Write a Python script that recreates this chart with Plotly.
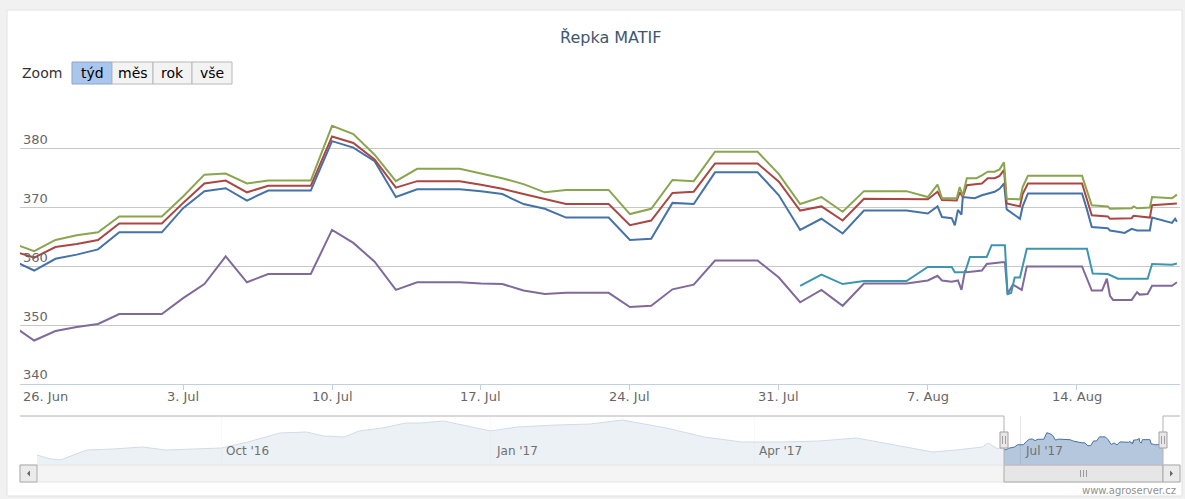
import plotly.graph_objects as go

# ---------------- data ----------------
daily_dates = ["2017-06-25", "2017-06-26", "2017-06-27", "2017-06-28", "2017-06-29", "2017-06-30",
               "2017-07-01", "2017-07-02", "2017-07-03", "2017-07-04", "2017-07-05", "2017-07-06",
               "2017-07-07", "2017-07-08", "2017-07-09", "2017-07-10", "2017-07-11", "2017-07-12",
               "2017-07-13", "2017-07-14", "2017-07-15", "2017-07-16", "2017-07-17", "2017-07-18",
               "2017-07-19", "2017-07-20", "2017-07-21", "2017-07-22", "2017-07-23", "2017-07-24",
               "2017-07-25", "2017-07-26", "2017-07-27", "2017-07-28", "2017-07-29", "2017-07-30",
               "2017-07-31", "2017-08-01", "2017-08-02", "2017-08-03", "2017-08-04", "2017-08-05",
               "2017-08-06"]

green_daily = [363.9, 362.6, 364.5, 365.3, 365.8, 368.5, 368.5, 368.5, 371.9, 375.6, 375.8, 374.1,
               374.6, 374.6, 374.6, 383.9, 382.5, 379.0, 374.5, 376.6, 376.6, 376.6, 375.8, 375.0,
               374.0, 372.6, 373.0, 373.0, 373.0, 368.9, 369.8, 374.7, 374.5, 379.5, 379.5, 379.5,
               375.7, 370.6, 371.8, 369.3, 372.8, 372.8, 372.8]
red_daily = [362.6, 361.5, 363.3, 363.8, 364.5, 367.3, 367.3, 367.3, 370.8, 374.1, 374.6, 372.6,
             373.7, 373.7, 373.7, 382.1, 381.0, 378.2, 373.4, 374.5, 374.5, 374.5, 373.9, 373.2,
             372.3, 371.4, 370.6, 370.6, 370.6, 367.0, 367.8, 372.5, 372.7, 377.5, 377.5, 377.5,
             374.4, 369.5, 370.2, 367.8, 371.5, 371.5, 371.5]
blue_daily = [361.0, 359.3, 361.3, 362.0, 362.9, 365.8, 365.8, 365.8, 369.9, 372.8, 373.3, 371.2,
              372.9, 372.9, 372.9, 381.3, 380.2, 377.9, 371.8, 373.1, 373.1, 373.1, 372.8, 372.3,
              370.6, 369.8, 368.3, 368.3, 368.3, 364.5, 364.7, 370.8, 370.6, 376.0, 376.0, 376.0,
              372.1, 366.2, 368.1, 365.6, 369.5, 369.5, 369.5]
purple_daily = [349.9, 347.4, 349.0, 349.7, 350.2, 351.9, 351.9, 351.9, 354.6, 357.0, 361.7, 357.3,
                358.7, 358.7, 358.7, 366.2, 364.0, 360.8, 356.0, 357.3, 357.3, 357.3, 357.1, 357.0,
                355.9, 355.3, 355.5, 355.5, 355.5, 353.1, 353.3, 356.1, 356.9, 361.0, 361.0, 361.0,
                358.1, 353.9, 356.0, 353.3, 357.1, 357.1, 357.1]

green_aug_x = ["2017-08-07 00:00", "2017-08-07 11:00", "2017-08-07 16:00", "2017-08-08 08:40",
               "2017-08-08 12:00", "2017-08-08 15:30", "2017-08-08 20:00", "2017-08-09 07:00",
               "2017-08-09 13:00", "2017-08-09 19:40", "2017-08-10 03:30", "2017-08-10 09:00",
               "2017-08-10 14:00", "2017-08-10 17:00", "2017-08-11 08:00", "2017-08-11 11:00",
               "2017-08-11 17:00", "2017-08-14 06:00", "2017-08-14 17:00", "2017-08-15 11:00",
               "2017-08-15 13:30", "2017-08-16 14:00", "2017-08-16 16:00", "2017-08-16 20:00",
               "2017-08-17 10:30", "2017-08-17 13:00", "2017-08-18 11:30", "2017-08-18 17:00"]
green_aug_y = [371.8, 373.9, 371.6, 371.6, 373.5, 372.0, 375.0, 375.0, 375.5, 376.1, 376.1, 376.5,
               377.7, 371.5, 371.4, 373.5, 375.4, 375.4, 370.4, 370.2, 369.8, 369.9, 370.2, 369.9,
               370.0, 371.8, 371.6, 372.2]

red_aug_x = ["2017-08-07 00:00", "2017-08-07 11:00", "2017-08-07 16:00", "2017-08-08 08:40",
             "2017-08-08 12:00", "2017-08-08 15:30", "2017-08-08 20:00", "2017-08-09 13:00",
             "2017-08-09 19:40", "2017-08-10 03:30", "2017-08-10 09:00", "2017-08-10 14:00",
             "2017-08-10 17:00", "2017-08-11 08:00", "2017-08-11 11:00", "2017-08-11 17:00",
             "2017-08-14 06:00", "2017-08-14 17:00", "2017-08-15 11:00", "2017-08-15 13:30",
             "2017-08-16 14:00", "2017-08-16 16:00", "2017-08-17 10:30", "2017-08-17 13:00",
             "2017-08-18 17:00"]
red_aug_y = [371.4, 372.7, 371.3, 371.2, 372.6, 371.8, 373.8, 374.1, 375.0, 375.0, 375.4, 376.4,
             370.7, 370.2, 372.3, 374.1, 374.1, 368.7, 368.5, 368.1, 368.2, 368.6, 368.3, 370.4,
             370.7]

blue_aug_x = ["2017-08-07 00:00", "2017-08-07 11:00", "2017-08-07 16:00", "2017-08-08 03:00",
              "2017-08-08 06:30", "2017-08-08 10:00", "2017-08-08 14:00", "2017-08-08 15:30",
              "2017-08-09 05:00", "2017-08-09 13:00", "2017-08-10 03:30", "2017-08-10 09:00",
              "2017-08-10 14:00", "2017-08-10 17:00", "2017-08-11 08:00", "2017-08-11 11:00",
              "2017-08-11 17:00", "2017-08-14 06:00", "2017-08-14 11:30", "2017-08-14 17:00",
              "2017-08-15 11:00", "2017-08-15 13:30", "2017-08-15 22:30", "2017-08-16 06:00",
              "2017-08-16 14:00", "2017-08-16 20:00", "2017-08-17 10:30", "2017-08-17 13:00",
              "2017-08-18 11:30", "2017-08-18 15:00", "2017-08-18 17:00"]
blue_aug_y = [369.0, 370.2, 368.4, 368.2, 367.0, 369.6, 368.8, 371.8, 371.6, 372.1, 372.7, 373.2,
              374.1, 369.7, 368.1, 370.2, 372.4, 372.4, 369.7, 366.7, 366.5, 366.1, 365.9, 365.7,
              366.4, 366.1, 366.1, 368.3, 367.4, 368.1, 367.6]

purple_aug_x = ["2017-08-07 00:00", "2017-08-07 11:00", "2017-08-07 16:00", "2017-08-08 03:00",
                "2017-08-08 10:00", "2017-08-08 14:00", "2017-08-08 18:00", "2017-08-08 20:00",
                "2017-08-09 13:00", "2017-08-09 18:30", "2017-08-10 11:30", "2017-08-10 15:00",
                "2017-08-10 18:00", "2017-08-11 00:00", "2017-08-11 10:00", "2017-08-11 15:40",
                "2017-08-14 06:00", "2017-08-14 17:00", "2017-08-15 04:30", "2017-08-15 10:00",
                "2017-08-15 13:30", "2017-08-15 17:00", "2017-08-16 14:00", "2017-08-16 20:00",
                "2017-08-16 23:00", "2017-08-17 08:00", "2017-08-17 13:00", "2017-08-18 11:30",
                "2017-08-18 17:00"]
purple_aug_y = [357.6, 358.4, 357.6, 357.4, 357.6, 356.0, 359.3, 359.0, 359.3, 360.4, 360.7, 360.7,
                355.3, 356.9, 356.0, 360.0, 360.0, 355.9, 355.9, 357.9, 355.0, 354.3, 354.3, 355.6,
                355.2, 355.3, 356.7, 356.7, 357.3]

cyan_x = ["2017-08-01", "2017-08-02", "2017-08-03", "2017-08-04", "2017-08-06", "2017-08-07 00:00",
          "2017-08-08 03:00", "2017-08-08 06:30", "2017-08-08 18:00", "2017-08-08 23:30",
          "2017-08-09 18:30", "2017-08-10 00:00", "2017-08-10 15:00", "2017-08-10 18:00",
          "2017-08-10 22:00", "2017-08-11 02:00", "2017-08-11 08:00", "2017-08-11 15:40",
          "2017-08-14 11:30", "2017-08-14 18:00", "2017-08-15 11:00", "2017-08-15 22:30",
          "2017-08-17 08:00", "2017-08-17 13:00", "2017-08-18 11:30", "2017-08-18 17:00"]
cyan_y = [356.7, 358.6, 357.0, 357.5, 357.5, 359.9, 359.9, 359.0, 359.0, 361.6, 361.6, 363.6,
          363.6, 355.3, 355.5, 358.1, 358.1, 363.0, 363.0, 358.8, 358.7, 357.9, 357.9, 360.4,
          360.3, 360.5]

# navigator history (first series, before the zoomed window)
nav_hist_dates = ["2016-07-30", "2016-08-03", "2016-08-07", "2016-08-16", "2016-08-25", "2016-09-04",
                  "2016-09-12", "2016-09-20", "2016-10-01", "2016-10-10", "2016-10-21", "2016-10-30",
                  "2016-11-05", "2016-11-12", "2016-11-17", "2016-11-25", "2016-12-03", "2016-12-08",
                  "2016-12-16", "2016-12-24", "2017-01-01", "2017-01-10", "2017-01-23", "2017-02-04",
                  "2017-02-15", "2017-03-02", "2017-03-15", "2017-03-28", "2017-04-10", "2017-04-23",
                  "2017-05-06", "2017-05-19", "2017-06-01", "2017-06-09", "2017-06-18", "2017-06-20",
                  "2017-06-23"]
nav_hist_values = [352.5, 348.0, 346.1, 359.0, 360.3, 362.9, 359.0, 360.3, 361.6, 369.3, 381.0, 382.3,
                   377.1, 375.8, 383.6, 387.5, 393.9, 393.9, 396.5, 390.0, 383.6, 388.8, 391.3, 392.6,
                   397.8, 387.5, 375.8, 369.3, 369.3, 370.6, 374.5, 365.5, 356.4, 359.0, 362.9, 368.1,
                   361.0]

x_tick_dates = ["2017-06-26", "2017-07-03", "2017-07-10", "2017-07-17", "2017-07-24",
                "2017-07-31", "2017-08-07", "2017-08-14"]
x_tick_labels = ["26. Jun", "3. Jul", "10. Jul", "17. Jul", "24. Jul", "31. Jul", "7. Aug", "14. Aug"]
y_tick_values = [340, 350, 360, 370, 380, 390]
y_tick_labels = ["340", "350", "360", "370", "380", ""]
nav_label_dates = ["2016-10-01", "2017-01-01", "2017-04-01", "2017-07-01"]
nav_labels = ["Oct '16", "Jan '17", "Apr '17", "Jul '17"]
zoom_buttons = ["týd", "měs", "rok", "vše"]

# ---------------- geometry helpers (layout decorations only) ----------------
W, H = 1185, 499
PL, PR, PT, PB = 20, 1180, 90, 482


def px(x):
    return (x - PL) / (PR - PL)


def py(y):
    return (PB - y) / (PB - PT)


FONT = "DejaVu Sans"
colors = {"blue": "#4572A7", "red": "#AA4643", "green": "#89A54E", "purple": "#80699B", "cyan": "#3D96AE"}

fig = go.Figure()

series = [
    ("blue", daily_dates + blue_aug_x, blue_daily + blue_aug_y),
    ("red", daily_dates + red_aug_x, red_daily + red_aug_y),
    ("green", daily_dates + green_aug_x, green_daily + green_aug_y),
    ("purple", daily_dates + purple_aug_x, purple_daily + purple_aug_y),
    ("cyan", cyan_x, cyan_y),
]
for name, xs, ys in series:
    fig.add_trace(go.Scatter(x=xs, y=ys, mode="lines", line=dict(color=colors[name], width=2),
                             xaxis="x", yaxis="y", hoverinfo="skip", showlegend=False))

# navigator
nav_x = nav_hist_dates + daily_dates + blue_aug_x
nav_y = nav_hist_values + blue_daily + blue_aug_y
fig.add_trace(go.Scatter(x=nav_x, y=nav_y, mode="lines", fill="tozeroy",
                         fillcolor="rgba(69,114,167,0.4)", line=dict(color="#4572A7", width=1),
                         xaxis="x2", yaxis="y2", hoverinfo="skip", showlegend=False))

shapes = []
# card
shapes.append(dict(type="rect", xref="paper", yref="paper", x0=px(7), x1=px(1182), y0=py(496), y1=py(10),
                   fillcolor="white", line=dict(color="#E2E2E2", width=1), layer="below"))
# zoom buttons
btn_edges = [72, 112, 153, 192, 232]
for i, lab in enumerate(zoom_buttons):
    shapes.append(dict(type="rect", xref="paper", yref="paper", x0=px(btn_edges[i]), x1=px(btn_edges[i + 1]),
                       y0=py(84), y1=py(62),
                       fillcolor="#A9C6EE" if i == 0 else "#F3F3F3",
                       line=dict(color="#8FA5C4" if i == 0 else "#B8B8B8", width=1), layer="above"))
# navigator mask on the unselected part
shapes.append(dict(type="rect", xref="paper", yref="paper", x0=px(37), x1=px(1004), y0=py(465), y1=py(416),
                   fillcolor="rgba(255,255,255,0.75)", line=dict(width=0), layer="above"))
# navigator outline
shapes.append(dict(type="path", xref="paper", yref="paper",
                   path=f"M {px(20)},{py(416)} L {px(1004)},{py(416)} L {px(1004)},{py(465)} "
                        f"M {px(1163)},{py(465)} L {px(1163)},{py(416)} L {px(1180)},{py(416)}",
                   line=dict(color="#B2B1B6", width=1), layer="above"))
# scrollbar track
shapes.append(dict(type="rect", xref="paper", yref="paper", x0=px(20), x1=px(1180), y0=py(482), y1=py(465),
                   fillcolor="#F4F4F4", line=dict(color="#E4E4E4", width=1), layer="above"))
# scrollbar thumb
shapes.append(dict(type="rect", xref="paper", yref="paper", x0=px(1004), x1=px(1163), y0=py(482), y1=py(465),
                   fillcolor="#E6E6E6", line=dict(color="#AAAAAA", width=1), layer="above"))
for gx in (1080.5, 1083.5, 1086.5):
    shapes.append(dict(type="line", xref="paper", yref="paper", x0=px(gx), x1=px(gx), y0=py(477), y1=py(470),
                       line=dict(color="#999999", width=1), layer="above"))
# scrollbar buttons
for bx0, bx1, arrow in ((20, 37, "left"), (1163, 1180, "right")):
    shapes.append(dict(type="rect", xref="paper", yref="paper", x0=px(bx0), x1=px(bx1), y0=py(482), y1=py(465),
                       fillcolor="#EBEBEB", line=dict(color="#AAAAAA", width=1), layer="above"))
    cx = (bx0 + bx1) / 2
    if arrow == "left":
        p = f"M {px(cx + 1.5)},{py(470.5)} L {px(cx + 1.5)},{py(476.5)} L {px(cx - 1.5)},{py(473.5)} Z"
    else:
        p = f"M {px(cx - 1.5)},{py(470.5)} L {px(cx - 1.5)},{py(476.5)} L {px(cx + 1.5)},{py(473.5)} Z"
    shapes.append(dict(type="path", xref="paper", yref="paper", path=p, fillcolor="#666666",
                       line=dict(width=0), layer="above"))
# navigator handles
for hx in (1004, 1163):
    shapes.append(dict(type="rect", xref="paper", yref="paper", x0=px(hx - 4), x1=px(hx + 4), y0=py(448), y1=py(432),
                       fillcolor="#EBE7E8", line=dict(color="#A0A0A0", width=1), layer="above"))
    for gx in (hx - 1.5, hx + 1.5):
        shapes.append(dict(type="line", xref="paper", yref="paper", x0=px(gx), x1=px(gx), y0=py(444), y1=py(436),
                           line=dict(color="#A0A0A0", width=1), layer="above"))

annotations = []
annotations.append(dict(text="Řepka MATIF", xref="paper", yref="paper", x=px(610), y=py(37),
                        xanchor="center", yanchor="middle", showarrow=False,
                        font=dict(family=FONT, size=16, color="#3E576F")))
annotations.append(dict(text="Zoom", xref="paper", yref="paper", x=px(20), y=py(73),
                        xanchor="left", yanchor="middle", showarrow=False,
                        font=dict(family=FONT, size=14, color="#333333")))
for i, lab in enumerate(zoom_buttons):
    annotations.append(dict(text=lab, xref="paper", yref="paper", x=px((btn_edges[i] + btn_edges[i + 1]) / 2),
                            y=py(73), xanchor="center", yanchor="middle", showarrow=False,
                            font=dict(family=FONT, size=14, color="#000000")))
# x-axis labels (first one is justified inside the plot, as the original does)
for i, (d, lab) in enumerate(zip(x_tick_dates, x_tick_labels)):
    if i == 0:
        annotations.append(dict(text=lab, xref="paper", yref="paper", x=px(21), y=py(396),
                                xanchor="left", yanchor="middle", showarrow=False,
                                font=dict(family=FONT, size=13, color="#666666")))
    else:
        annotations.append(dict(text=lab, xref="x", yref="paper", x=d, y=py(396),
                                xanchor="center", yanchor="middle", showarrow=False,
                                font=dict(family=FONT, size=13, color="#666666")))
for d, lab in zip(nav_label_dates, nav_labels):
    annotations.append(dict(text=lab, xref="x2", yref="paper", x=d, y=py(451), xanchor="left",
                            yanchor="middle", xshift=3, showarrow=False,
                            font=dict(family=FONT, size=12, color="#707070")))
annotations.append(dict(text="www.agroserver.cz", xref="paper", yref="paper", x=px(1178), y=py(490),
                        xanchor="right", yanchor="middle", showarrow=False,
                        font=dict(family=FONT, size=10, color="#909090")))

fig.update_layout(
    width=W, height=H, autosize=False,
    margin=dict(l=PL, r=W - PR, t=PT, b=H - PB, pad=0),
    paper_bgcolor="#F1F1F1", plot_bgcolor="rgba(0,0,0,0)",
    font=dict(family=FONT, color="#666666"),
    xaxis=dict(type="date", domain=[0, 1], anchor="y",
               range=["2017-06-25 08:00", "2017-08-18 20:30"],
               tickvals=x_tick_dates, showticklabels=False,
               showgrid=False, zeroline=False, showline=True, linecolor="#C0D0E0", linewidth=1,
               ticks="outside", ticklen=5, tickcolor="#C0D0E0"),
    yaxis=dict(domain=[py(384), 1], anchor="x", range=[340, 390],
               tickvals=y_tick_values, ticktext=y_tick_labels,
               showgrid=True, gridcolor="#C8C8C8", gridwidth=1, zeroline=False, showline=False,
               ticks="", ticklabelposition="inside top",
               tickfont=dict(family=FONT, size=13, color="#666666")),
    xaxis2=dict(type="date", domain=[px(37), px(1163)], anchor="y2",
                range=["2016-07-30", "2017-08-18 17:00"],
                tickvals=nav_label_dates, showticklabels=False,
                showgrid=True, gridcolor="#E6E6E6", zeroline=False, showline=False, ticks=""),
    yaxis2=dict(domain=[py(465), py(416)], anchor="x2", range=[339.6, 403],
                showgrid=False, zeroline=False, showticklabels=False, showline=False, ticks=""),
    shapes=shapes,
    annotations=annotations,
    showlegend=False,
)

fig.write_html("out.html", config={"displayModeBar": False},
               post_script="document.body.style.margin='0';document.body.style.padding='0';"
                           "document.body.style.background='#F1F1F1';")
